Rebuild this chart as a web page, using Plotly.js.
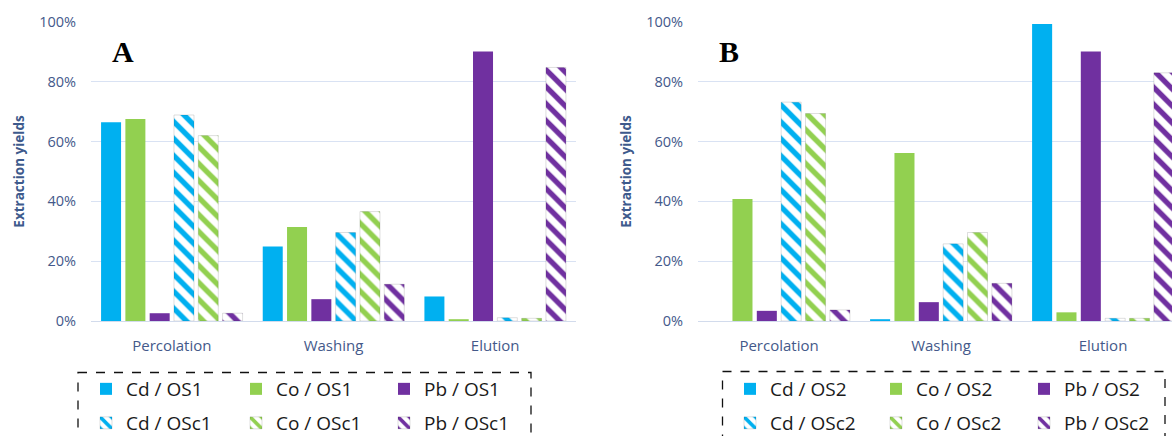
<!DOCTYPE html>
<html>
<head>
<meta charset="utf-8">
<script src="https://cdn.plot.ly/plotly-3.0.1.min.js"></script>
<style>
html,body{margin:0;padding:0;background:#fff;overflow:hidden;}
#chart{width:1172px;height:436px;}
</style>
</head>
<body>
<div id="chart"></div>
<script>
// ---- Data ----
const categories = ['Percolation', 'Washing', 'Elution'];

// Panel A
const namesA = ['Cd / OS1', 'Co / OS1', 'Pb / OS1', 'Cd / OSc1', 'Co / OSc1', 'Pb / OSc1'];
const cdOS1  = [0.665, 0.249, 0.082];
const coOS1  = [0.676, 0.314, 0.006];
const pbOS1  = [0.026, 0.073, 0.901];
const cdOSc1 = [0.689, 0.296, 0.011];
const coOSc1 = [0.620, 0.366, 0.009];
const pbOSc1 = [0.026, 0.123, 0.848];

// Panel B
const namesB = ['Cd / OS2', 'Co / OS2', 'Pb / OS2', 'Cd / OSc2', 'Co / OSc2', 'Pb / OSc2'];
const cdOS2  = [0.000, 0.006, 0.993];
const coOS2  = [0.408, 0.562, 0.029];
const pbOS2  = [0.034, 0.063, 0.901];
const cdOSc2 = [0.732, 0.258, 0.009];
const coOSc2 = [0.694, 0.296, 0.009];
const pbOSc2 = [0.037, 0.126, 0.830];

const yTickVals = [0, 0.2, 0.4, 0.6, 0.8, 1.0];

// ---- Styling ----
const W = 1172, H = 436;
const colors = ['#00B0F0', '#92D050', '#7030A0', '#00B0F0', '#92D050', '#7030A0'];
const hatched = [false, false, false, true, true, true];
const FONT = 'Open Sans, Noto Sans, sans-serif';
const AXIS_COLOR = '#44598A';
const GRID = '#D9E2F3';

function px(x) { return x / W; }
function py(y) { return (H - y) / H; }

// legend text start positions (px) per column, per panel; row centres
const legTextA = [122, 272, 420];
const legTextB = [766, 912, 1060];
const legRows = [389, 423];
const TEXT_OFFSET = 36;

const layout = {
  width: W, height: H,
  margin: { l: 0, r: 0, t: 0, b: 0, pad: 0, autoexpand: false },
  paper_bgcolor: '#FFFFFF', plot_bgcolor: '#FFFFFF',
  barmode: 'group', bargap: 0.098, bargroupgap: 0.177,
  showlegend: true
};

let legCount = 0;
function newLegend(textX, rowY) {
  legCount += 1;
  const key = legCount === 1 ? 'legend' : 'legend' + legCount;
  layout[key] = {
    x: px(textX - TEXT_OFFSET), xanchor: 'left', y: py(rowY), yanchor: 'middle',
    orientation: 'h', bgcolor: 'rgba(0,0,0,0)', borderwidth: 0,
    font: { family: FONT, size: 19, color: '#1A1A1A' },
    itemclick: false, itemdoubleclick: false
  };
  return key;
}

function makeTraces(names, series, xa, ya, legText) {
  return series.map((vals, i) => {
    const m = { color: colors[i] };
    if (hatched[i]) {
      m.color = '#FFFFFF';
      m.pattern = { shape: '\\', fgcolor: colors[i], bgcolor: '#FFFFFF', size: 12, solidity: 0.45, fillmode: 'replace' };
      m.line = { color: 'rgba(0,0,0,0.13)', width: 1 };
    } else {
      m.line = { width: 0 };
    }
    return {
      type: 'bar', name: names[i], x: categories, y: vals,
      xaxis: xa, yaxis: ya, marker: m,
      legend: newLegend(legText[i % 3], legRows[hatched[i] ? 1 : 0]),
      hoverinfo: 'name+y'
    };
  });
}

const data = []
  .concat(makeTraces(namesA, [cdOS1, coOS1, pbOS1, cdOSc1, coOSc1, pbOSc1], 'x', 'y', legTextA))
  .concat(makeTraces(namesB, [cdOS2, coOS2, pbOS2, cdOSc2, coOSc2, pbOSc2], 'x2', 'y2', legTextB));

const yDomain = [py(321), py(22)];

function xAxis(domain, range) {
  return {
    domain: domain, range: range, type: 'category', showgrid: false,
    showline: true, linecolor: '#D2DBEC', linewidth: 1, ticks: '',
    tickfont: { family: FONT, size: 15, color: AXIS_COLOR },
    ticklabelstandoff: 11, fixedrange: true, automargin: false
  };
}
function yAxis(anchor) {
  return {
    anchor: anchor, domain: yDomain, range: [0, 1], tickvals: yTickVals,
    tickformat: '.0%', showgrid: true, gridcolor: GRID, gridwidth: 1,
    zeroline: false, showline: false, ticks: '',
    tickfont: { family: FONT, size: 14.5, color: AXIS_COLOR },
    ticklabelstandoff: 14, fixedrange: true, automargin: false,
    title: { text: 'Extraction yields', standoff: 11,
             font: { family: FONT, size: 13.5, color: '#3D5A8C', weight: 'bold' } }
  };
}

layout.xaxis = xAxis([px(91), px(576)], [-0.5, 2.5]);
layout.yaxis = yAxis('x');
layout.xaxis2 = xAxis([px(698), 1], [-0.5, -0.5 + (W - 698) / 162]);
layout.yaxis2 = yAxis('x2');

layout.shapes = [
  { type: 'rect', xref: 'paper', yref: 'paper', x0: px(78), x1: px(531), y0: py(372.5), y1: py(460),
    line: { color: '#111', width: 1.3, dash: 'dash' }, fillcolor: 'rgba(0,0,0,0)' },
  { type: 'rect', xref: 'paper', yref: 'paper', x0: px(722.5), x1: px(1165), y0: py(371.5), y1: py(460),
    line: { color: '#111', width: 1.3, dash: 'dash' }, fillcolor: 'rgba(0,0,0,0)' }
];
layout.annotations = [
  { text: '<b>A</b>', xref: 'paper', yref: 'paper', x: px(123), y: py(52), xanchor: 'center', yanchor: 'middle',
    showarrow: false, font: { family: 'Liberation Serif, DejaVu Serif, serif', size: 30, color: '#000' } },
  { text: '<b>B</b>', xref: 'paper', yref: 'paper', x: px(729), y: py(52), xanchor: 'center', yanchor: 'middle',
    showarrow: false, font: { family: 'Liberation Serif, DejaVu Serif, serif', size: 30, color: '#000' } }
];

Plotly.newPlot('chart', data, layout, { staticPlot: true, displayModeBar: false });
</script>
</body>
</html>
